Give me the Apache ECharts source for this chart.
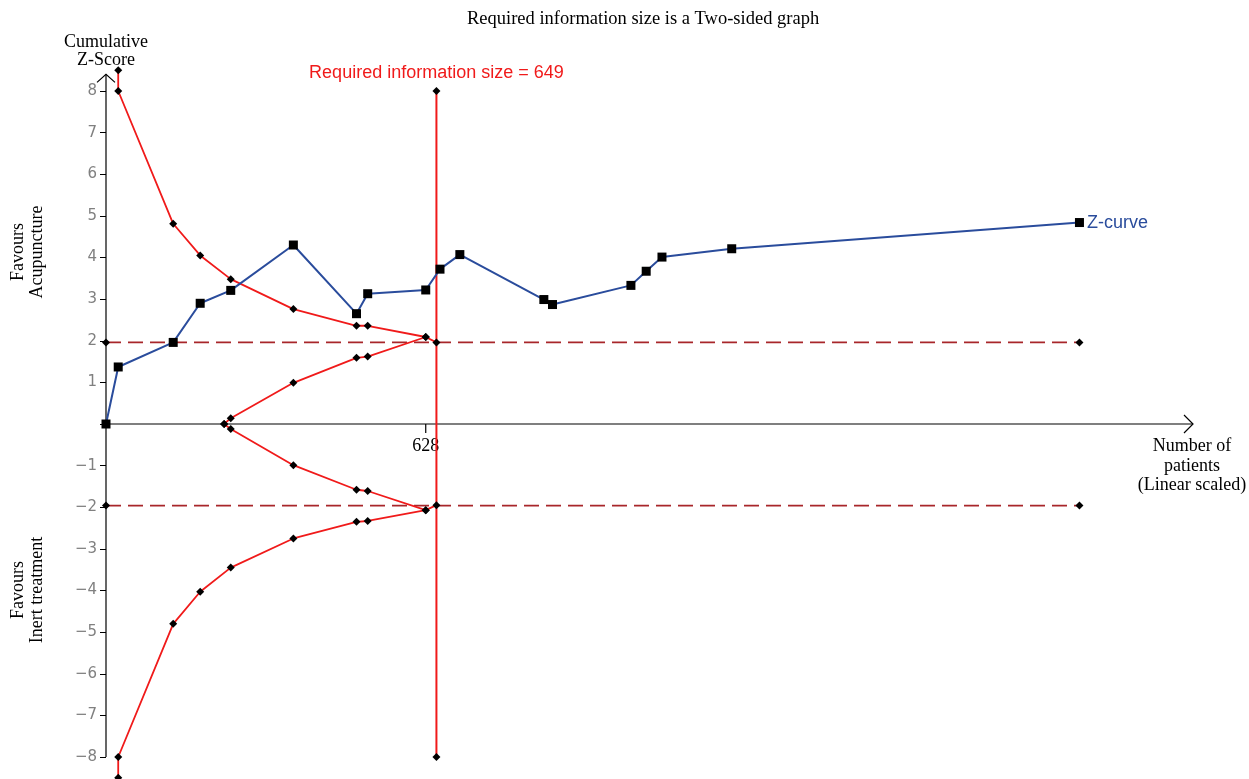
<!DOCTYPE html>
<html>
<head>
<meta charset="utf-8">
<script src="https://cdn.jsdelivr.net/npm/echarts@6/dist/echarts.min.js"></script>
<style>
  html, body { margin: 0; padding: 0; background: #fff; }
  #chart { width: 1249px; height: 779px; }
</style>
</head>
<body>
<div id="chart"></div>
<script>
// Cumulative number of patients at each trial and the cumulative Z-score
const zPatients = [0, 24, 132, 185, 245, 368, 492, 514, 628, 656, 695, 860, 877, 1031, 1061, 1092, 1229, 1912];
const zScores   = [0, 1.37, 1.96, 2.90, 3.21, 4.30, 2.65, 3.13, 3.22, 3.72, 4.07, 2.99, 2.87, 3.33, 3.67, 4.01, 4.21, 4.84];

// Trial sequential monitoring boundaries (benefit / harm)
const boundPatients = [24, 24, 132, 185, 245, 368, 492, 514, 628, 649];
const upperBound    = [8.5, 8, 4.81, 4.05, 3.48, 2.76, 2.36, 2.36, 2.09, 1.96];
const lowerBound    = [-8.5, -8, -4.80, -4.03, -3.45, -2.75, -2.35, -2.33, -2.07, -1.95];

// Inner wedge (futility) boundaries
const futPatients = [232, 245, 368, 492, 514, 628];
const upperFut    = [0, 0.14, 0.99, 1.59, 1.62, 2.09];
const lowerFut    = [0, -0.12, -0.99, -1.58, -1.61, -2.07];

// Conventional significance thresholds
const convZ = 1.96;
const convRange = [0, 1912];

// Required information size
const ris = 649;
const risRange = [-8, 8];
const risLabel = 'Required information size = 649';

// Axis settings
const xMax = 2135;
const yTicks = [-8, 8];
const yArrowTop = 8.4;
const xTickValue = 628;

const RED = '#f01a1a';
const DARKRED = '#a8262a';
const BLUE = '#2a4c9c';

const pairs = (xs, ys) => xs.map((x, i) => [x, ys[i]]);

const diamond = { symbol: 'diamond', symbolSize: 8, itemStyle: { color: '#000' } };

const chart = echarts.init(document.getElementById('chart'));

const zData = pairs(zPatients, zScores).map((p, i, arr) => i === arr.length - 1
  ? { value: p, label: { show: true, position: 'right', distance: 3, formatter: 'Z-curve',
      color: BLUE, fontFamily: 'Liberation Sans', fontSize: 18 } }
  : p);

const risData = [
  [ris, risRange[0]],
  { value: [ris, risRange[1]], label: { show: true, position: 'top', distance: 5, formatter: risLabel,
      color: RED, fontFamily: 'Liberation Sans', fontSize: 18 } }
];

function boundarySeries(data) {
  return Object.assign({
    type: 'line', data: data, clip: false, animation: false,
    lineStyle: { color: RED, width: 1.8 }, z: 3
  }, diamond);
}

chart.setOption({
  animation: false,
  title: {
    text: 'Required information size is a Two-sided graph',
    left: 462, top: 5,
    textStyle: { fontFamily: 'Liberation Serif', fontSize: 18.5, fontWeight: 'normal', color: '#000' }
  },
  grid: { left: 106, right: 56, top: 91, bottom: 22, containLabel: false, outerBoundsMode: 'none' },
  xAxis: {
    type: 'value', min: 0, max: xMax,
    splitLine: { show: false },
    axisLine: { show: false },
    axisTick: { show: false },
    axisLabel: { show: false }
  },
  yAxis: {
    type: 'value', min: yTicks[0], max: yTicks[1], interval: 1,
    splitLine: { show: false },
    axisLine: { show: false },
    axisTick: { show: true, length: 6, lineStyle: { color: '#000' } },
    axisLabel: {
      margin: 9, fontFamily: 'DejaVu Sans', fontSize: 15, color: '#808080',
      formatter: v => v === 0 ? '' : (v < 0 ? '\u2212' + Math.abs(v) : String(v))
    }
  },
  graphic: [
    { type: 'text', x: 106, y: 33, style: { text: 'Cumulative\nZ-Score', align: 'center', verticalAlign: 'top',
        font: '18px "Liberation Serif"', lineHeight: 18, fill: '#000' } },
    { type: 'text', x: 28, y: 252, rotation: Math.PI / 2,
      style: { text: 'Favours\nAcupuncture', align: 'center', verticalAlign: 'middle',
        font: '18px "Liberation Serif"', lineHeight: 19, fill: '#000' } },
    { type: 'text', x: 28, y: 590, rotation: Math.PI / 2,
      style: { text: 'Favours\nInert treatment', align: 'center', verticalAlign: 'middle',
        font: '18px "Liberation Serif"', lineHeight: 19, fill: '#000' } },
    { type: 'text', x: 1192, y: 437, style: { text: 'Number of\npatients\n(Linear scaled)', align: 'center',
        verticalAlign: 'top', font: '18px "Liberation Serif"', lineHeight: 19.5, fill: '#000' } }
  ],
  series: [
    {
      // axis lines with open arrow heads, and the single x tick
      type: 'custom', clip: false, silent: true, z: 1,
      data: [[0, 0]],
      renderItem: function (params, api) {
        const bot = api.coord([0, yTicks[0]]);
        const top = api.coord([0, yArrowTop]);
        const o = api.coord([0, 0]);
        const xe = api.coord([xMax, 0]);
        const t = api.coord([xTickValue, 0]);
        const st = { stroke: '#000', lineWidth: 1.2, fill: null };
        return {
          type: 'group',
          children: [
            { type: 'line', shape: { x1: bot[0], y1: bot[1], x2: top[0], y2: top[1] }, style: st },
            { type: 'polyline', shape: { points: [[top[0] - 9, top[1] + 8], top, [top[0] + 9, top[1] + 8]] }, style: st },
            { type: 'line', shape: { x1: o[0], y1: o[1], x2: xe[0], y2: xe[1] }, style: st },
            { type: 'polyline', shape: { points: [[xe[0] - 9, xe[1] - 9], xe, [xe[0] - 9, xe[1] + 9]] }, style: st },
            { type: 'line', shape: { x1: t[0], y1: t[1], x2: t[0], y2: t[1] + 9 }, style: st },
            { type: 'text', x: t[0], y: t[1] + 13, style: { text: String(xTickValue), align: 'center', verticalAlign: 'top',
                font: '18px "Liberation Serif"', fill: '#000' } }
          ]
        };
      }
    },
    Object.assign({
      type: 'line', data: [[convRange[0], convZ], [convRange[1], convZ]], clip: false,
      lineStyle: { color: DARKRED, width: 1.8, type: [15, 7] }, z: 2
    }, diamond),
    Object.assign({
      type: 'line', data: [[convRange[0], -convZ], [convRange[1], -convZ]], clip: false,
      lineStyle: { color: DARKRED, width: 1.8, type: [15, 7] }, z: 2
    }, diamond),
    Object.assign({
      type: 'line', data: risData, clip: false,
      lineStyle: { color: RED, width: 2 }, z: 3
    }, diamond),
    boundarySeries(pairs(boundPatients, upperBound)),
    boundarySeries(pairs(boundPatients, lowerBound)),
    boundarySeries(pairs(futPatients, upperFut)),
    boundarySeries(pairs(futPatients, lowerFut)),
    {
      type: 'line', data: zData, clip: false, z: 4,
      symbol: 'rect', symbolSize: 9,
      itemStyle: { color: '#000' },
      lineStyle: { color: BLUE, width: 2 }
    }
  ]
});
</script>
</body>
</html>
